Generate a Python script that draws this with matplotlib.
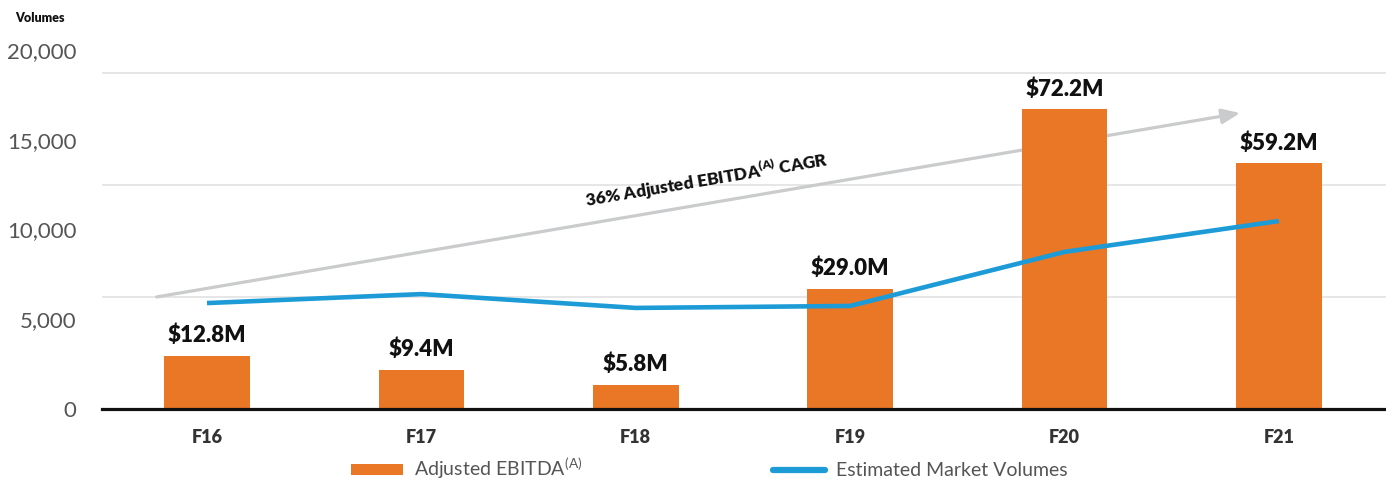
import matplotlib
matplotlib.use("Agg")
import matplotlib.pyplot as plt
from matplotlib.patches import Patch
from matplotlib.lines import Line2D

categories = ["F16", "F17", "F18", "F19", "F20", "F21"]
ebitda = [12.8, 9.4, 5.8, 29.0, 72.2, 59.2]
ebitda_labels = ["$12.8M", "$9.4M", "$5.8M", "$29.0M", "$72.2M", "$59.2M"]
volumes = [5900, 6400, 5630, 5740, 8750, 10470]
vol_ticks = [0, 5000, 10000, 15000, 20000]
vol_tick_labels = ["0", "5,000", "10,000", "15,000", "20,000"]

plt.rcParams['font.family'] = ['Lato', 'DejaVu Sans']
plt.rcParams['mathtext.fontset'] = 'custom'
plt.rcParams['mathtext.rm'] = 'Lato'
plt.rcParams['mathtext.bf'] = 'Lato:bold'

ORANGE = "#EA7726"
BLUE = "#1D9BD7"
GRAY_ARROW = "#C9CBCC"

fig = plt.figure(figsize=(13.86, 4.79), dpi=100)
ax = fig.add_axes([102/1386, 70/479, 1 - 102/1386, 369/479])
x = list(range(len(categories)))

# bars (EBITDA scale)
ax.bar(x, ebitda, width=0.4, color=ORANGE, zorder=3)
for xi, v, lab in zip(x, ebitda, ebitda_labels):
    ax.annotate(lab, (xi, v), xytext=(0, 7), textcoords="offset points",
                ha="center", va="bottom", fontsize=16, fontweight="heavy",
                color="#111111", zorder=5)
ax.set_ylim(0, 88.9)
ax.set_xlim(-0.49, 5.5)
ax.set_yticks([27, 54, 81])
ax.yaxis.grid(True, color="#E4E4E4", linewidth=1.3, zorder=0)
ax.set_axisbelow(True)
ax.set_xticks(x)
ax.set_xticklabels(categories, fontsize=13, fontweight="heavy", color="#333333")
ax.tick_params(axis="x", pad=11, bottom=False)
for s in ["top", "right", "left"]:
    ax.spines[s].set_visible(False)
ax.spines["bottom"].set_linewidth(2.3)
ax.spines["bottom"].set_color("#111111")
ax.spines["bottom"].set_zorder(6)

# CAGR arrow (annotation)
ax.annotate("", xy=(4.82, 71.3), xytext=(-0.235, 27.0),
            arrowprops=dict(arrowstyle="-|>,head_length=1.1,head_width=0.45",
                            color=GRAY_ARROW, lw=2.3, shrinkA=0, shrinkB=0),
            zorder=2)
ax.text(2.33, 55.3, r"36% Adjusted EBITDA$^{\mathregular{(A)}}$ CAGR",
        rotation=9.6, rotation_mode="anchor", ha="center", va="center",
        fontsize=12.5, fontweight="heavy", color="#111111", zorder=4)

# line (volume scale)
ax2 = ax.twinx()
ax2.plot(x, volumes, color=BLUE, linewidth=3.3, solid_capstyle="butt", zorder=4)
ax2.set_ylim(0, 20553)
ax2.set_yticks(vol_ticks)
ax2.set_yticklabels(vol_tick_labels)
ax2.yaxis.tick_left()
ax2.tick_params(axis="y", left=False, right=False, labelleft=True, labelright=False,
                labelsize=16, labelcolor="#555555", pad=15)
for s in ["top", "right", "left", "bottom"]:
    ax2.spines[s].set_visible(False)
ax.tick_params(axis="y", left=False, right=False, labelleft=False, labelright=False)

fig.text(15/1386, 1 - 18/479, "Volumes", fontsize=9, fontweight="heavy",
         color="#111111", va="center", ha="left")

handles = [Patch(facecolor=ORANGE, edgecolor="none"),
           Line2D([0], [0], color=BLUE, linewidth=4.5, solid_capstyle="round")]
labels = [r"Adjusted EBITDA$^{\mathregular{(A)}}$", "Estimated Market Volumes"]
fig.legend(handles, labels, loc="center left", bbox_to_anchor=(333/1386, 1 - 468/479),
           ncol=2, frameon=False, fontsize=14, labelcolor="#555555",
           handlelength=2.7, handleheight=0.5, handletextpad=0.55,
           columnspacing=9.8)

fig.savefig("out.png", dpi=100)
